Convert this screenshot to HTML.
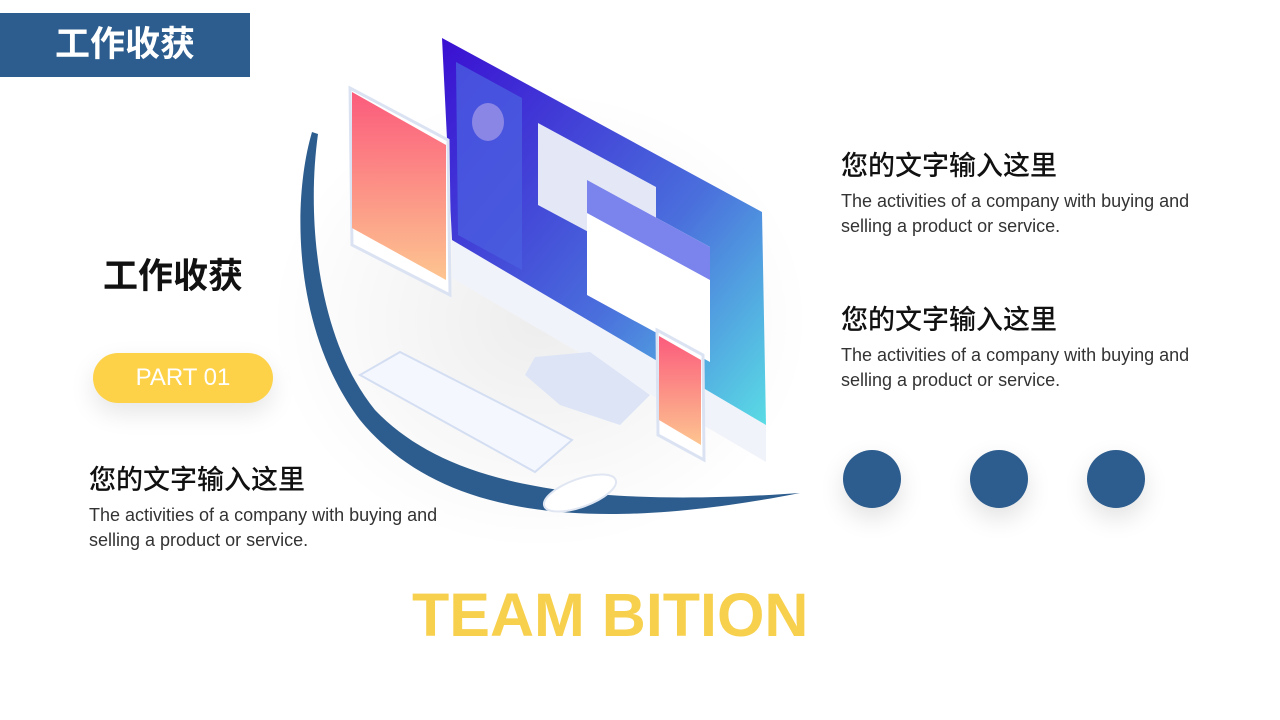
<!DOCTYPE html>
<html><head><meta charset="utf-8"><style>
body{margin:0;width:1280px;height:720px;background:#fff;position:relative;overflow:hidden;font-family:"Liberation Sans","Noto Sans CJK SC",sans-serif}
.a{position:absolute;white-space:nowrap}
.h{font-size:27px;color:#111;font-weight:500}
.p{font-size:18px;color:#333;line-height:25px}
.dot{position:absolute;width:58px;height:58px;border-radius:50%;background:#2d5d8e;box-shadow:0 10px 25px rgba(0,0,0,.12)}
</style></head><body>
<div class="a" style="left:0;top:13px;width:250px;height:64px;background:#2d5d8e;color:#fff;font-size:35px;line-height:64px;text-align:center;font-weight:bold">工作收获</div>
<svg class="a" style="left:0;top:0" width="1280" height="720">
<defs>
<linearGradient id="sc" x1="0" y1="0" x2="1" y2="1"><stop offset="0" stop-color="#3a0fd2"/><stop offset=".6" stop-color="#4a6fdc"/><stop offset="1" stop-color="#5adce5"/></linearGradient>
<linearGradient id="tb" x1="0" y1="0" x2="0" y2="1"><stop offset="0" stop-color="#fb5b7c"/><stop offset="1" stop-color="#fdc590"/></linearGradient>
<radialGradient id="sh"><stop offset="0" stop-color="#000" stop-opacity=".07"/><stop offset="1" stop-color="#000" stop-opacity="0"/></radialGradient>
</defs>
<ellipse cx="540" cy="320" rx="270" ry="230" fill="url(#sh)"/>
<path d="M312,132 C292,200 292,330 360,420 C430,505 560,540 800,493 C560,510 440,478 375,410 C318,340 306,220 318,134 Z" fill="#2d5d8e"/>
<polygon points="452,240 766,425 766,462 452,278" fill="#f1f3fa"/>
<polygon points="442,38 762,212 766,425 452,240" fill="url(#sc)"/>
<polygon points="456,62 522,98 522,270 458,235" fill="#4a5ee0" opacity=".8"/>
<ellipse cx="488" cy="122" rx="16" ry="19" fill="#8a86e6"/>
<polygon points="538,123 656,187 656,268 538,205" fill="#e4e8f6"/>
<polygon points="587,180 710,247 710,362 587,295" fill="#fff"/>
<polygon points="587,180 710,247 710,280 587,213" fill="#7a84ec"/>
<polygon points="535,357 590,352 650,395 620,425 560,405 525,375" fill="#dce4f6"/>
<polygon points="350,88 448,140 450,295 352,245" fill="#fff" stroke="#dbe3f3" stroke-width="3"/>
<polygon points="352,92 446,145 446,280 352,228" fill="url(#tb)"/>
<polygon points="657,330 703,355 704,460 658,435" fill="#fff" stroke="#dbe3f3" stroke-width="3"/>
<polygon points="659,336 701,360 701,445 659,420" fill="url(#tb)"/>
<polygon points="360,375 400,352 572,440 535,472" fill="#f4f7fe" stroke="#d4def2" stroke-width="2"/>
<ellipse cx="580" cy="493" rx="38" ry="14" fill="#fff" stroke="#e0e6f2" stroke-width="2" transform="rotate(-20 580 493)"/>
</svg>
<div class="a" style="left:103px;top:248px;font-size:35px;font-weight:bold;color:#111">工作收获</div>
<div class="a" style="left:93px;top:353px;width:180px;height:50px;border-radius:25px;background:#fdd249;color:#fff;font-size:24px;line-height:50px;text-align:center;box-shadow:0 10px 25px rgba(0,0,0,.1)">PART 01</div>
<div class="a h" style="left:89px;top:458px">您的文字输入这里</div>
<div class="a p" style="left:89px;top:503px">The activities of a company with buying and<br>selling a product or service.</div>
<div class="a h" style="left:841px;top:144px">您的文字输入这里</div>
<div class="a p" style="left:841px;top:189px">The activities of a company with buying and<br>selling a product or service.</div>
<div class="a h" style="left:841px;top:298px">您的文字输入这里</div>
<div class="a p" style="left:841px;top:343px">The activities of a company with buying and<br>selling a product or service.</div>
<div class="dot" style="left:843px;top:450px"></div>
<div class="dot" style="left:970px;top:450px"></div>
<div class="dot" style="left:1087px;top:450px"></div>
<div class="a" style="left:412px;top:580px;font-size:61px;font-weight:bold;color:#f7d04e">TEAM BITION</div>
</body></html>
